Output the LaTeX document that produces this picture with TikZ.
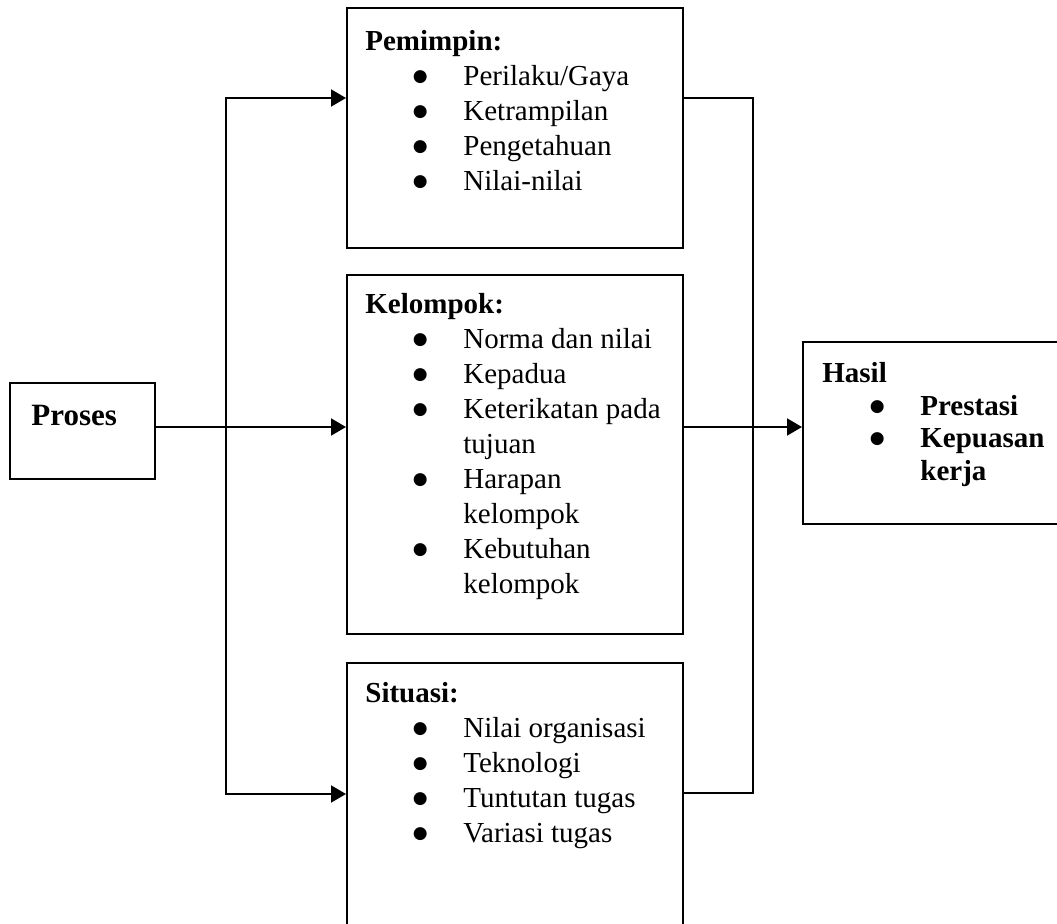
\documentclass[tikz,border=0pt]{standalone}
\usepackage{fontspec}
\setmainfont{Liberation Serif}
\newfontfamily\symfont{DejaVu Sans}
\usetikzlibrary{positioning,arrows.meta}
\newcommand{\dotmark}{\raisebox{2pt}{\symfont\fontsize{8.5}{8.5}\selectfont ●}}
\newcommand{\bul}[1]{\hspace*{21.5pt}\makebox[12pt]{\dotmark}\hspace*{15.5pt}#1}
\newcommand{\cnt}[1]{\hspace*{49pt}#1}

\begin{document}
\begin{tikzpicture}[
  x=0.5pt, y=-0.5pt,
  >={Triangle[length=7.5pt, width=8.5pt]},
  box/.style={draw, line width=1pt, inner sep=0pt, anchor=north west},
  txt/.style={inner sep=0pt, align=left, font=\fontsize{14.5}{17.5}\selectfont},
  lk/.style={->, line width=1pt},
  ln/.style={line width=1pt},
]
\useasboundingbox (0,0) rectangle (1057,923);
% Boxes
\node[box, minimum width=72.5pt, minimum height=48pt] (pro) at (9,382) {};
\node[box, minimum width=168pt, minimum height=120pt] (pem) at (346,7) {};
\node[box, minimum width=168pt, minimum height=179.5pt] (kel) at (346,274) {};
\node[box, minimum width=168pt, minimum height=160pt] (sit) at (346,662) {};
\node[box, minimum width=150pt, minimum height=91pt] (has) at (802,341) {};
% Texts
\node[txt, font=\bfseries\fontsize{15.5}{18}\selectfont,
  below right=11.5pt and 11pt of pro.north west] (protxt) {Proses};
\node[txt, below right=11.5pt and 9.5pt of pem.north west] (pemtxt)
  {\textbf{Pemimpin:}\\ \bul{Perilaku/Gaya}\\ \bul{Ketrampilan}\\
   \bul{Pengetahuan}\\ \bul{Nilai-nilai}};
\node[txt, below right=9.5pt and 9.5pt of kel.north west] (keltxt)
  {\textbf{Kelompok:}\\ \bul{Norma dan nilai}\\ \bul{Kepadua}\\
   \bul{Keterikatan pada}\\ \cnt{tujuan}\\ \bul{Harapan}\\ \cnt{kelompok}\\
   \bul{Kebutuhan}\\ \cnt{kelompok}};
\node[txt, below right=10pt and 9.5pt of sit.north west] (sittxt)
  {\textbf{Situasi:}\\ \bul{Nilai organisasi}\\ \bul{Teknologi}\\
   \bul{Tuntutan tugas}\\ \bul{Variasi tugas}};
\node[txt, font=\bfseries\fontsize{14.5}{16.3}\selectfont,
  below right=10.5pt and 10pt of has.north west] (hastxt)
  {Hasil\\ \bul{Prestasi}\\ \bul{Kepuasan}\\ \cnt{kerja}};
% Connectors
\coordinate (jt) at (226,98);
\coordinate (jb) at (226,794);
\coordinate (rt) at (753,98);
\coordinate (rb) at (753,793);
\coordinate (mid) at (0,427);
\draw[lk] (pro.east |- mid) -- (mid -| kel.west);
\draw[lk, <->] (jt -| pem.west) -- (jt) -- (jb) -- (jb -| sit.west);
\draw[ln] (pem.east |- rt) -- (rt) -- (rb) -- (rb -| sit.east);
\draw[lk] (kel.east |- mid) -- (mid -| has.west);
\end{tikzpicture}
\end{document}
